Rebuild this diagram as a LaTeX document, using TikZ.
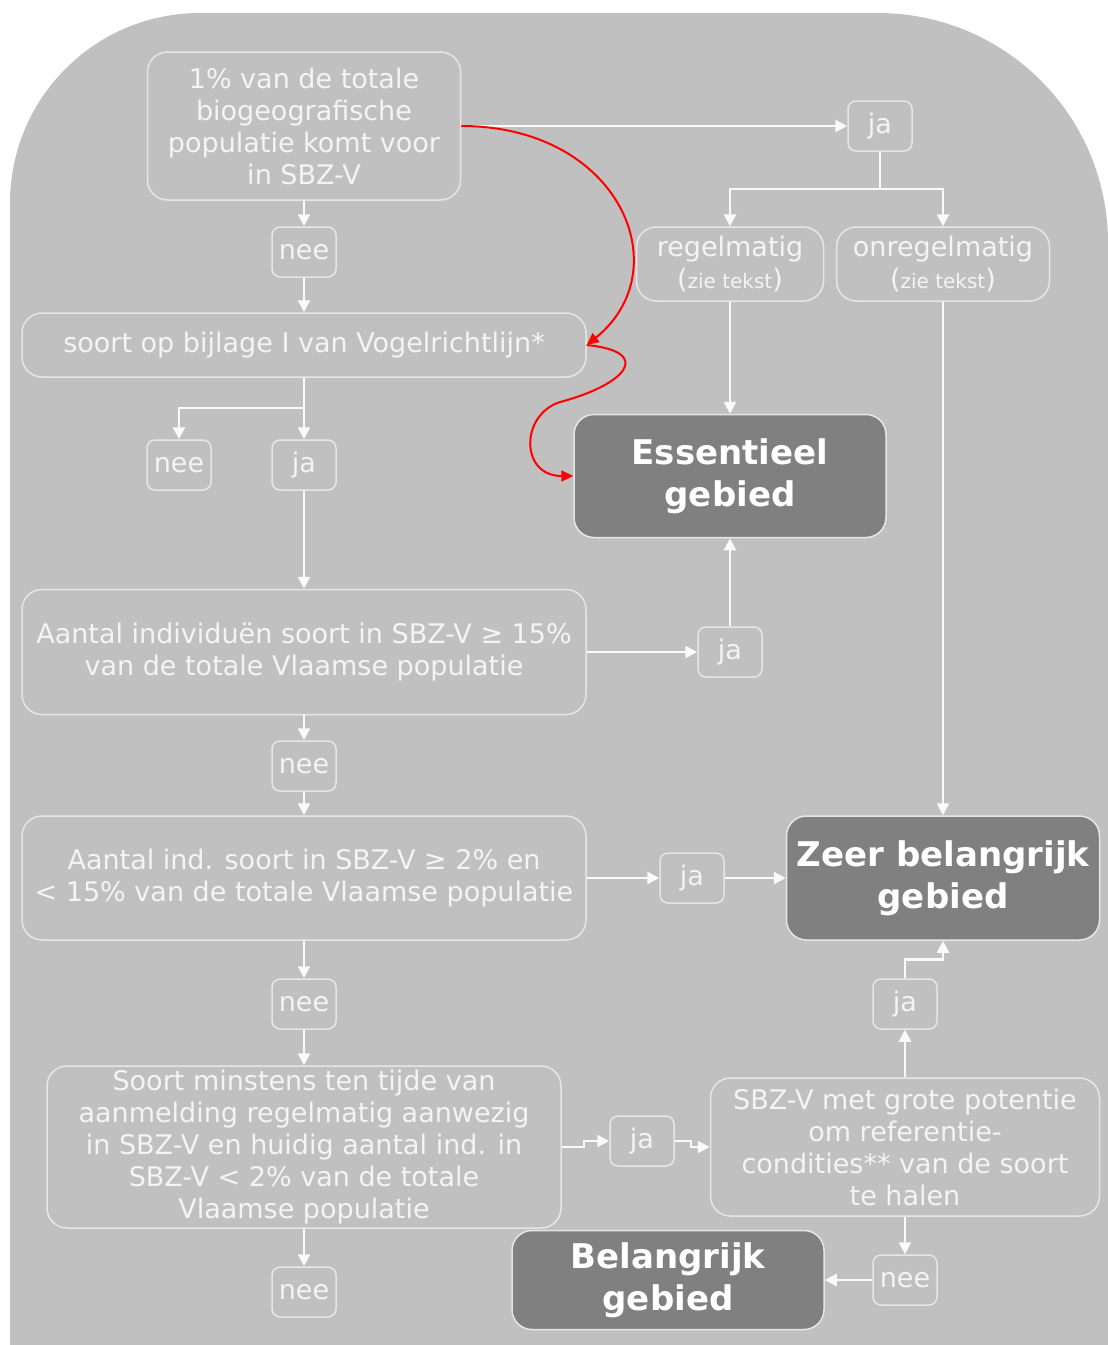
\documentclass[tikz,border=0pt]{standalone}
\usepackage{fontspec}
\setmainfont{DejaVu Sans}
\usepackage{tikz}
\usetikzlibrary{arrows.meta}
\definecolor{flowBack}{HTML}{C0C0C0}
\definecolor{flowDark}{HTML}{808080}
\definecolor{flowEdge}{HTML}{E6E6E6}
\definecolor{flowLine}{HTML}{FAFAFA}
\definecolor{flowText}{HTML}{F4F4F4}
\definecolor{flowRed}{HTML}{FF0000}
\newcommand{\flowFont}{\fontsize{13.5}{16}\selectfont}
\newcommand{\flowBig}{\fontsize{17}{21}\selectfont}
\newcommand{\flowSmall}{\fontsize{10}{11}\selectfont}
\tikzset{
  block/.style={draw=flowEdge, line width=0.75pt, rounded corners=10pt, text=flowText, font=\flowFont, align=center, inner sep=0pt},
  blockDark/.style={block, fill=flowDark, text=white, font=\flowBig\bfseries},
  tag/.style={block, rounded corners=4pt, minimum width=32pt, minimum height=25pt},
  arrow/.style={-{Triangle[length=6pt, width=6pt]}, line width=1.25pt, draw=flowLine},
  link/.style={line width=1.25pt, draw=flowLine},
  redArrow/.style={-{Triangle[length=6pt, width=5.5pt]}, line width=1pt, draw=flowRed}
}
\begin{document}
\begin{tikzpicture}[x=0.5pt, y=-0.5pt, font=\flowFont]
  \useasboundingbox (0,0) rectangle (1108,1345);
  % achtergrond
  \fill[flowBack] (10,1345) -- (10,203) arc[start angle=180, end angle=90, radius=95pt]
    -- (878,13) arc[start angle=90, end angle=0, radius=115pt] -- (1108,1345) -- cycle;

  % linker kolom
  \node[block, minimum width=156.5pt, minimum height=74pt] (bio) at (304,126) {1\% van de totale\\biogeografische\\populatie komt voor\\in SBZ-V};
  \node[tag] (neeBio) at (304,252) {nee};
  \node[block, minimum width=282pt, minimum height=32pt] (bijlage) at (304,345) {soort op bijlage I van Vogelrichtlijn*};
  \node[tag] (neeBijlage) at (179,465) {nee};
  \node[tag] (jaBijlage) at (304,465) {ja};
  \node[block, minimum width=282pt, minimum height=62.5pt] (vijftien) at (304,652) {Aantal individuën soort in SBZ-V ≥ 15\%\\van de totale Vlaamse populatie};
  \node[tag] (neeVijftien) at (304,766) {nee};
  \node[block, minimum width=282pt, minimum height=62pt] (twee) at (304,878) {Aantal ind. soort in SBZ-V ≥ 2\% en\\< 15\% van de totale Vlaamse populatie};
  \node[tag] (neeTwee) at (304,1004) {nee};
  \node[block, minimum width=257pt, minimum height=81pt] (aanmelding) at (304,1147) {Soort minstens ten tijde van\\aanmelding regelmatig aanwezig\\in SBZ-V en huidig aantal ind. in\\SBZ-V < 2\% van de totale\\Vlaamse populatie};
  \node[tag] (neeAanmelding) at (304,1292) {nee};

  % rechter kolom
  \node[tag] (jaBio) at (880,126) {ja};
  \node[block, minimum width=93.5pt, minimum height=37pt] (regel) at (730,264) {regelmatig\\({\flowSmall zie tekst})};
  \node[block, minimum width=106.5pt, minimum height=37pt] (onregel) at (943,264) {onregelmatig\\({\flowSmall zie tekst})};
  \node[blockDark, minimum width=156pt, minimum height=61.5pt] (ess) at (730,476) {Essentieel\\gebied};
  \node[tag] (jaVijftien) at (730,652) {ja};
  \node[tag] (jaTwee) at (692,878) {ja};
  \node[blockDark, minimum width=156.5pt, minimum height=62pt] (zeer) at (943,878) {Zeer belangrijk\\gebied};
  \node[tag] (jaPotentie) at (905,1004) {ja};
  \node[tag] (jaAanmelding) at (642,1141) {ja};
  \node[block, minimum width=194.5pt, minimum height=69pt] (potentie) at (905,1147) {SBZ-V met grote potentie\\om referentie-\\condities** van de soort\\te halen};
  \node[tag] (neePotentie) at (905,1280) {nee};
  \node[blockDark, minimum width=156pt, minimum height=49.5pt] (bel) at (668,1280) {Belangrijk\\gebied};

  % verbindingen
  \draw[arrow] (bio) -- (jaBio);
  \draw[link] (jaBio.south) -- ++(0,37) coordinate (splitBio);
  \draw[arrow] (splitBio) -| (regel);
  \draw[arrow] (splitBio) -| (onregel);
  \draw[arrow] (regel) -- (ess);
  \draw[arrow] (onregel) -- (zeer);
  \draw[arrow] (bio) -- (neeBio);
  \draw[arrow] (neeBio) -- (bijlage);
  \draw[link] (bijlage.south) -- ++(0,30) coordinate (splitBijlage);
  \draw[arrow] (splitBijlage) -| (neeBijlage);
  \draw[arrow] (splitBijlage) -- (jaBijlage);
  \draw[arrow] (jaBijlage) -- (vijftien);
  \draw[arrow] (vijftien) -- (jaVijftien);
  \draw[arrow] (jaVijftien) -- (ess);
  \draw[arrow] (vijftien) -- (neeVijftien);
  \draw[arrow] (neeVijftien) -- (twee);
  \draw[arrow] (twee) -- (jaTwee);
  \draw[arrow] (jaTwee) -- (zeer);
  \draw[arrow] (twee) -- (neeTwee);
  \draw[arrow] (neeTwee) -- (aanmelding);
  \draw[arrow] (aanmelding.east) -- ++(22,0) |- (jaAanmelding);
  \draw[arrow] (jaAanmelding.east) -- ++(16,0) |- (potentie);
  \draw[arrow] (potentie) -- (jaPotentie);
  \draw[arrow] (jaPotentie.north) -- ++(0,-19) -| (zeer);
  \draw[arrow] (potentie) -- (neePotentie);
  \draw[arrow] (neePotentie) -- (bel);
  \draw[arrow] (aanmelding) -- (neeAanmelding);

  % rode lus
  \coordinate (lus) at (560,402);
  \draw[redArrow] (bio.east) .. controls (620,126) and (680,270) .. (bijlage.east);
  \draw[redArrow] (bijlage.east) .. controls (655,352) and (625,385) .. (lus)
    .. controls (520,415) and (520,476) .. (ess.west);
\end{tikzpicture}
\end{document}
